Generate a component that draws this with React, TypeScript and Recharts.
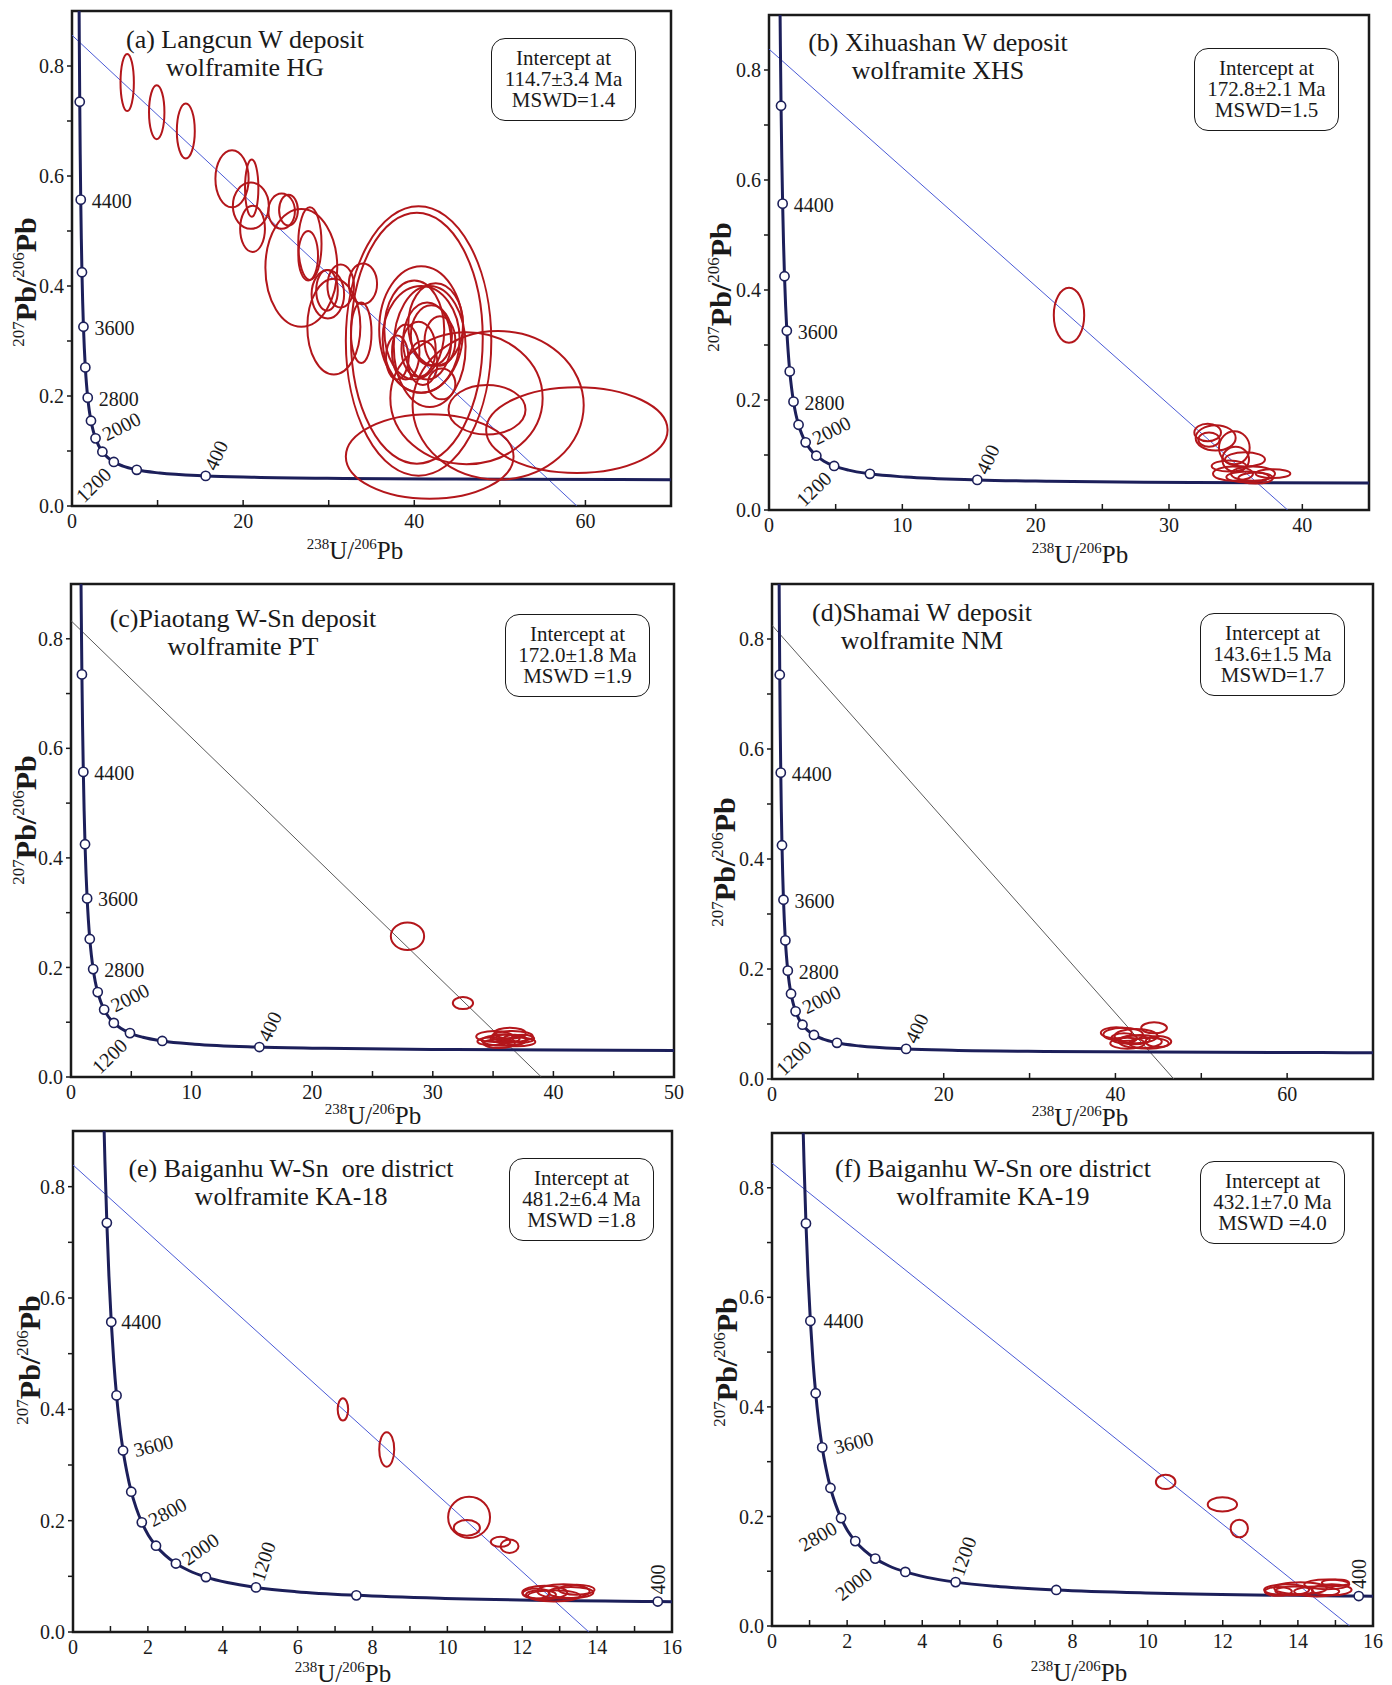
import React from "react";
import { ComposedChart, Line, Scatter, XAxis, YAxis, ReferenceArea } from "recharts";

/* Tera-Wasserburg diagrams, six wolframite samples (a)-(f) */

const FONT = '"Liberation Serif", "Times New Roman", Times, serif';
const INK = "#1a1a1a";
const RED = "#b3161b";
const NAVY = "#1c1f5a";
const BLUE = "#4a5ad6";
const GREY = "#5a5a5a";
const Y_MAX = 0.9;

// concordia curve: [238U/206Pb, 207Pb/206Pb]
const concordia: number[][] = [
  [0.829, 0.907], [0.853, 0.845], [0.904, 0.735], [0.96, 0.639], [1.022, 0.557],
  [1.089, 0.486], [1.163, 0.425], [1.245, 0.372], [1.337, 0.326], [1.44, 0.287],
  [1.556, 0.252], [1.687, 0.223], [1.838, 0.197], [2.013, 0.174], [2.217, 0.155],
  [2.459, 0.138], [2.749, 0.123], [3.104, 0.11], [3.55, 0.0987], [4.122, 0.0888],
  [4.888, 0.0801], [5.959, 0.0725], [7.568, 0.0658], [10.25, 0.0599], [15.62, 0.0547],
  [20.99, 0.0523], [31.73, 0.0501], [44.9, 0.0489], [63.97, 0.048], [70, 0.0478],
];

// age markers on the concordia (Ma)
const markerAges = [400, 800, 1200, 1600, 2000, 2400, 2800, 3200, 3600, 4000, 4400, 4800];
const markerX = [15.62, 7.568, 4.888, 3.55, 2.749, 2.217, 1.838, 1.556, 1.337, 1.163, 1.022, 0.904];
const markerY = [0.0547, 0.0658, 0.0801, 0.0987, 0.123, 0.155, 0.197, 0.252, 0.326, 0.425, 0.557, 0.735];
const labelledAges = [400, 1200, 2000, 2800, 3600, 4400];

const yTicks = [0, 0.1, 0.2, 0.3, 0.4, 0.5, 0.6, 0.7, 0.8];
const yMajor = [0, 0.2, 0.4, 0.6, 0.8];

const xTicks70 = [0, 10, 20, 30, 40, 50, 60, 70];
const xMajor70 = [0, 20, 40, 60];
const xTicks45 = [0, 5, 10, 15, 20, 25, 30, 35, 40, 45];
const xMajor45 = [0, 10, 20, 30, 40];
const xTicks50 = [0, 5, 10, 15, 20, 25, 30, 35, 40, 45, 50];
const xMajor50 = [0, 10, 20, 30, 40, 50];
const xTicks16 = [0, 1, 2, 3, 4, 5, 6, 7, 8, 9, 10, 11, 12, 13, 14, 15, 16];
const xMajor16 = [0, 2, 4, 6, 8, 10, 12, 14, 16];

// error ellipses: [x, y, half-width x, half-height y]
const ellipsesA: number[][] = [
  [6.45, 0.77, 0.78, 0.052], [9.9, 0.716, 0.9, 0.049], [13.3, 0.682, 1.05, 0.05],
  [18.7, 0.595, 1.94, 0.052], [21.0, 0.578, 0.78, 0.052], [20.9, 0.546, 2.1, 0.042],
  [21.1, 0.504, 1.45, 0.042], [24.5, 0.536, 1.55, 0.032], [25.3, 0.538, 1.1, 0.028],
  [26.8, 0.433, 4.2, 0.107], [27.8, 0.477, 1.36, 0.066], [27.6, 0.455, 1.15, 0.045],
  [29.8, 0.392, 1.26, 0.037], [29.9, 0.385, 1.9, 0.044], [30.6, 0.326, 3.1, 0.087],
  [31.4, 0.4, 1.55, 0.039], [34.0, 0.404, 1.65, 0.037], [33.8, 0.315, 1.2, 0.055],
  [40.5, 0.3, 8.5, 0.245], [40.3, 0.305, 7.7, 0.228], [40.8, 0.321, 4.9, 0.115],
  [40.8, 0.303, 4.5, 0.097], [41.5, 0.3, 2.8, 0.07], [40.5, 0.285, 2.0, 0.05],
  [42.0, 0.31, 2.4, 0.055], [43.0, 0.3, 1.8, 0.045], [39.0, 0.28, 1.6, 0.05],
  [38.0, 0.27, 1.3, 0.04], [41.0, 0.26, 1.7, 0.04], [42.5, 0.33, 3.2, 0.075],
  [40.0, 0.32, 3.5, 0.09], [41.8, 0.29, 4.2, 0.11], [43.2, 0.222, 1.6, 0.028],
  [49.8, 0.183, 10.0, 0.135], [46.1, 0.196, 8.9, 0.12], [48.5, 0.175, 4.5, 0.045],
  [59.0, 0.138, 10.6, 0.078], [41.8, 0.09, 9.8, 0.077],
];
const ellipsesB: number[][] = [
  [22.5, 0.354, 1.14, 0.05], [32.9, 0.141, 1.0, 0.016], [33.5, 0.131, 1.5, 0.023],
  [33.0, 0.128, 0.8, 0.013], [34.9, 0.113, 1.15, 0.03], [35.0, 0.092, 1.0, 0.023],
  [35.7, 0.092, 1.5, 0.013], [34.5, 0.08, 1.3, 0.01], [34.8, 0.066, 1.5, 0.013],
  [36.3, 0.066, 1.65, 0.013], [37.8, 0.066, 1.3, 0.008], [36.5, 0.058, 1.3, 0.01],
  [35.9, 0.06, 1.6, 0.01],
];
const ellipsesC: number[][] = [
  [27.9, 0.257, 1.38, 0.025], [32.5, 0.135, 0.84, 0.011], [35.1, 0.074, 1.5, 0.01],
  [36.4, 0.08, 1.3, 0.01], [35.9, 0.067, 1.85, 0.01], [37.0, 0.064, 1.5, 0.008],
  [36.6, 0.074, 1.7, 0.01], [35.5, 0.061, 1.3, 0.008], [37.5, 0.07, 0.9, 0.007],
  [34.8, 0.065, 1.1, 0.007], [36.0, 0.07, 1.2, 0.008], [36.8, 0.068, 1.0, 0.009],
];
const ellipsesD: number[][] = [
  [44.5, 0.093, 1.5, 0.01], [40.1, 0.084, 1.8, 0.01], [40.9, 0.081, 2.3, 0.012],
  [42.4, 0.078, 2.5, 0.013], [42.9, 0.068, 2.5, 0.012], [45.0, 0.068, 1.5, 0.01],
  [41.4, 0.065, 2.0, 0.01], [43.9, 0.065, 2.3, 0.01], [42.2, 0.071, 1.8, 0.008],
  [41.0, 0.074, 1.5, 0.009],
];
const ellipsesE: number[][] = [
  [7.21, 0.4, 0.14, 0.02], [8.38, 0.328, 0.2, 0.031], [10.58, 0.206, 0.56, 0.037],
  [10.52, 0.187, 0.35, 0.014], [11.42, 0.162, 0.26, 0.009], [11.66, 0.154, 0.24, 0.012],
  [12.6, 0.071, 0.6, 0.012], [13.1, 0.073, 0.7, 0.013], [13.3, 0.071, 0.6, 0.01],
  [12.37, 0.069, 0.36, 0.009], [12.85, 0.065, 0.7, 0.01], [13.45, 0.076, 0.48, 0.009],
  [12.5, 0.067, 0.4, 0.008],
];
const ellipsesF: number[][] = [
  [10.48, 0.263, 0.26, 0.013], [11.99, 0.222, 0.39, 0.013], [12.44, 0.178, 0.23, 0.016],
  [13.7, 0.066, 0.6, 0.01], [14.07, 0.069, 0.7, 0.011], [14.77, 0.076, 0.6, 0.009],
  [14.9, 0.066, 0.53, 0.01], [13.48, 0.063, 0.36, 0.008], [14.5, 0.063, 0.6, 0.009],
  [15.0, 0.079, 0.36, 0.006], [13.9, 0.064, 0.5, 0.008],
];

// discordia regression lines: y-intercept and x-intercept
const discordiaA = [[0, 0.856], [59, 0]];
const discordiaB = [[0, 0.838], [38.9, 0]];
const discordiaC = [[0, 0.833], [39.0, 0]];
const discordiaD = [[0, 0.825], [46.8, 0]];
const discordiaE = [[0, 0.839], [13.78, 0]];
const discordiaF = [[0, 0.845], [15.38, 0]];

const titlesA = ["(a) Langcun W deposit", "wolframite HG"];
const titlesB = ["(b) Xihuashan W deposit", "wolframite XHS"];
const titlesC = ["(c)Piaotang W-Sn deposit", "wolframite PT"];
const titlesD = ["(d)Shamai W deposit", "wolframite NM"];
const titlesE = ["(e) Baiganhu W-Sn  ore district", "wolframite KA-18"];
const titlesF = ["(f) Baiganhu W-Sn ore district", "wolframite KA-19"];

const boxA = ["Intercept at", "114.7\u00b13.4 Ma", "MSWD=1.4"];
const boxB = ["Intercept at", "172.8\u00b12.1 Ma", "MSWD=1.5"];
const boxC = ["Intercept at", "172.0\u00b11.8 Ma", "MSWD =1.9"];
const boxD = ["Intercept at", "143.6\u00b11.5 Ma", "MSWD=1.7"];
const boxE = ["Intercept at", "481.2\u00b16.4 Ma", "MSWD =1.8"];
const boxF = ["Intercept at", "432.1\u00b17.0 Ma", "MSWD =4.0"];

/* ── age label placement (pixels from the marker) ── */

type LabelSpec = { dx: number; dy: number; angle: number; anchor: "start" | "end" };

const labelsStd: Record<number, LabelSpec> = {
  4400: { dx: 11, dy: 1, angle: 0, anchor: "start" },
  3600: { dx: 11, dy: 1, angle: 0, anchor: "start" },
  2800: { dx: 11, dy: 1, angle: 0, anchor: "start" },
  2000: { dx: 8, dy: -3, angle: -27, anchor: "start" },
  1200: { dx: -6, dy: 9, angle: -44, anchor: "end" },
  400: { dx: 4, dy: -7, angle: -65, anchor: "start" },
};
const labelsE: Record<number, LabelSpec> = {
  4400: { dx: 10, dy: 0, angle: 0, anchor: "start" },
  3600: { dx: 11, dy: 0, angle: -14, anchor: "start" },
  2800: { dx: 8, dy: -1, angle: -28, anchor: "start" },
  2000: { dx: 8, dy: -3, angle: -35, anchor: "start" },
  1200: { dx: 1, dy: -7, angle: -72, anchor: "start" },
  400: { dx: 0, dy: -7, angle: -90, anchor: "start" },
};
const labelsF: Record<number, LabelSpec> = {
  4400: { dx: 13, dy: 0, angle: 0, anchor: "start" },
  3600: { dx: 12, dy: 0, angle: -14, anchor: "start" },
  2800: { dx: -6, dy: 8, angle: -30, anchor: "end" },
  2000: { dx: -6, dy: 13, angle: -38, anchor: "end" },
  1200: { dx: 1, dy: -7, angle: -70, anchor: "start" },
  400: { dx: 0, dy: -7, angle: -90, anchor: "start" },
};

interface PanelCfg {
  plot: { left: number; top: number; width: number; height: number };
  xMax: number;
  xTicks: number[];
  xMajor: number[];
  ellipses: number[][];
  discordia: number[][];
  lineColor: string;
  titles: string[];
  titlePos: { cx: number; cy: number };
  box: string[];
  boxPos: { left: number; top: number };
  xTitle: { cx: number; cy: number };
  yTitle: { cx: number; cy: number };
  labels: Record<number, LabelSpec>;
}

const panels: PanelCfg[] = [
  {
    plot: { left: 72, top: 11, width: 599, height: 495 }, xMax: 70, xTicks: xTicks70, xMajor: xMajor70,
    ellipses: ellipsesA, discordia: discordiaA, lineColor: BLUE, titles: titlesA,
    titlePos: { cx: 245, cy: 40 }, box: boxA, boxPos: { left: 491, top: 38 },
    xTitle: { cx: 355, cy: 550 }, yTitle: { cx: 26, cy: 282 }, labels: labelsStd,
  },
  {
    plot: { left: 769, top: 15, width: 600, height: 495 }, xMax: 45, xTicks: xTicks45, xMajor: xMajor45,
    ellipses: ellipsesB, discordia: discordiaB, lineColor: BLUE, titles: titlesB,
    titlePos: { cx: 938, cy: 43 }, box: boxB, boxPos: { left: 1194, top: 48 },
    xTitle: { cx: 1080, cy: 554 }, yTitle: { cx: 721, cy: 287 }, labels: labelsStd,
  },
  {
    plot: { left: 71, top: 584, width: 603, height: 493 }, xMax: 50, xTicks: xTicks50, xMajor: xMajor50,
    ellipses: ellipsesC, discordia: discordiaC, lineColor: GREY, titles: titlesC,
    titlePos: { cx: 243, cy: 619 }, box: boxC, boxPos: { left: 505, top: 614 },
    xTitle: { cx: 373, cy: 1115 }, yTitle: { cx: 26, cy: 820 }, labels: labelsStd,
  },
  {
    plot: { left: 772, top: 584, width: 601, height: 495 }, xMax: 70, xTicks: xTicks70, xMajor: xMajor70,
    ellipses: ellipsesD, discordia: discordiaD, lineColor: GREY, titles: titlesD,
    titlePos: { cx: 922, cy: 613 }, box: boxD, boxPos: { left: 1200, top: 613 },
    xTitle: { cx: 1080, cy: 1117 }, yTitle: { cx: 725, cy: 862 }, labels: labelsStd,
  },
  {
    plot: { left: 73, top: 1131, width: 599, height: 501 }, xMax: 16, xTicks: xTicks16, xMajor: xMajor16,
    ellipses: ellipsesE, discordia: discordiaE, lineColor: BLUE, titles: titlesE,
    titlePos: { cx: 291, cy: 1169 }, box: boxE, boxPos: { left: 509, top: 1158 },
    xTitle: { cx: 343, cy: 1673 }, yTitle: { cx: 30, cy: 1360 }, labels: labelsE,
  },
  {
    plot: { left: 772, top: 1133, width: 601, height: 493 }, xMax: 16, xTicks: xTicks16, xMajor: xMajor16,
    ellipses: ellipsesF, discordia: discordiaF, lineColor: BLUE, titles: titlesF,
    titlePos: { cx: 993, cy: 1169 }, box: boxF, boxPos: { left: 1200, top: 1161 },
    xTitle: { cx: 1079, cy: 1672 }, yTitle: { cx: 727, cy: 1362 }, labels: labelsF,
  },
];

const concordiaData = concordia.map(([x, y]) => ({ x, y }));
const markerData = markerAges.map((age, i) => ({ x: markerX[i], y: markerY[i], age }));

const ML = 62;
const MT = 10;
const MR = 12;
const MB = 40;
const Y_AXIS_W = 52;

const supStyle = (size: number, lift: number): React.CSSProperties => ({
  fontSize: size,
  fontWeight: 400,
  position: "relative",
  top: -lift,
  verticalAlign: "baseline",
});

const Panel: React.FC<{ cfg: PanelCfg }> = ({ cfg }) => {
  const { left, top, width, height } = cfg.plot;
  const pxX = width / cfg.xMax;
  const pxY = height / Y_MAX;
  const ellipseData = cfg.ellipses.map(([x, y, ax, ay]) => ({ x, y, ax, ay }));
  const lineData = cfg.discordia.map(([x, y]) => ({ x, y }));

  const renderEllipse = (p: any) => (
    <ellipse
      cx={p.cx}
      cy={p.cy}
      rx={p.payload.ax * pxX}
      ry={p.payload.ay * pxY}
      fill="none"
      stroke={RED}
      strokeWidth={2}
    />
  );

  const renderMarker = (p: any) => {
    const age = p.payload.age;
    const spec = labelledAges.includes(age) ? cfg.labels[age] : undefined;
    return (
      <g>
        <circle cx={p.cx} cy={p.cy} r={4.6} fill="#fff" stroke={NAVY} strokeWidth={1.6} />
        {spec && (
          <text
            transform={`translate(${p.cx + spec.dx},${p.cy + spec.dy}) rotate(${spec.angle})`}
            textAnchor={spec.anchor}
            dominantBaseline="central"
            fontFamily={FONT}
            fontSize={20}
            fill={INK}
          >
            {age}
          </text>
        )}
      </g>
    );
  };

  return (
    <>
      <div style={{ position: "absolute", left: left - ML, top: top - MT }}>
        <ComposedChart
          width={width + ML + MR}
          height={height + MT + MB}
          margin={{ top: MT, right: MR, left: ML - Y_AXIS_W, bottom: 0 }}
        >
          <XAxis
            type="number"
            dataKey="x"
            domain={[0, cfg.xMax]}
            ticks={cfg.xTicks}
            interval={0}
            allowDataOverflow
            height={MB}
            axisLine={false}
            tickSize={-6}
            tickMargin={14}
            tickLine={{ stroke: INK, strokeWidth: 1.5 }}
            tick={{ fill: INK, fontSize: 20, fontFamily: FONT }}
            tickFormatter={(v: number) => (cfg.xMajor.includes(v) ? String(v) : "")}
          />
          <YAxis
            type="number"
            dataKey="y"
            domain={[0, Y_MAX]}
            ticks={yTicks}
            interval={0}
            allowDataOverflow
            width={Y_AXIS_W}
            axisLine={false}
            tickSize={5}
            tickMargin={3}
            tickLine={{ stroke: INK, strokeWidth: 1.5 }}
            tick={{ fill: INK, fontSize: 20, fontFamily: FONT }}
            tickFormatter={(v: number) => (yMajor.includes(v) ? v.toFixed(1) : "")}
          />
          <Line
            data={lineData}
            dataKey="y"
            type="linear"
            stroke={cfg.lineColor}
            strokeWidth={1}
            dot={false}
            isAnimationActive={false}
          />
          <Line
            data={concordiaData}
            dataKey="y"
            type="monotone"
            stroke={NAVY}
            strokeWidth={3}
            dot={false}
            isAnimationActive={false}
          />
          <Scatter data={ellipseData} dataKey="y" shape={renderEllipse} isAnimationActive={false} />
          <Scatter data={markerData} dataKey="y" shape={renderMarker} isAnimationActive={false} />
          <ReferenceArea
            x1={0}
            x2={cfg.xMax}
            y1={0}
            y2={Y_MAX}
            fill="none"
            fillOpacity={0}
            stroke={INK}
            strokeWidth={2.5}
            ifOverflow="visible"
          />
        </ComposedChart>
      </div>

      {/* sample title */}
      <div
        style={{
          position: "absolute",
          left: cfg.titlePos.cx - 250,
          top: cfg.titlePos.cy - 14,
          width: 500,
          textAlign: "center",
          fontFamily: FONT,
          fontSize: 26,
          lineHeight: "28px",
          whiteSpace: "pre",
          color: INK,
        }}
      >
        {cfg.titles[0]}
        <br />
        {cfg.titles[1]}
      </div>

      {/* intercept box */}
      <div
        style={{
          position: "absolute",
          left: cfg.boxPos.left,
          top: cfg.boxPos.top,
          width: 145,
          height: 83,
          boxSizing: "border-box",
          border: `1.3px solid ${INK}`,
          borderRadius: 14,
          display: "flex",
          flexDirection: "column",
          justifyContent: "center",
          alignItems: "center",
          fontFamily: FONT,
          fontSize: 21,
          lineHeight: "21px",
          color: INK,
          background: "#fff",
        }}
      >
        {cfg.box.map((t) => (
          <div key={t}>{t}</div>
        ))}
      </div>

      {/* x axis title */}
      <div
        style={{
          position: "absolute",
          left: cfg.xTitle.cx,
          top: cfg.xTitle.cy,
          transform: "translate(-50%, -50%)",
          whiteSpace: "nowrap",
          fontFamily: FONT,
          fontSize: 25,
          lineHeight: 1,
          color: INK,
        }}
      >
        <span style={supStyle(15, 10)}>238</span>U/<span style={supStyle(15, 10)}>206</span>Pb
      </div>

      {/* y axis title */}
      <div
        style={{
          position: "absolute",
          left: cfg.yTitle.cx,
          top: cfg.yTitle.cy,
          transform: "translate(-50%, -50%) rotate(-90deg)",
          whiteSpace: "nowrap",
          fontFamily: FONT,
          fontSize: 30,
          fontWeight: 700,
          lineHeight: 1,
          color: INK,
        }}
      >
        <span style={supStyle(17, 12)}>207</span>Pb/<span style={supStyle(17, 12)}>206</span>Pb
      </div>
    </>
  );
};

export default function App() {
  return (
    <div
      style={{
        position: "absolute",
        left: 0,
        top: 0,
        width: 1392,
        height: 1685,
        background: "#fff",
        overflow: "hidden",
      }}
    >
      {panels.map((cfg, i) => (
        <Panel key={i} cfg={cfg} />
      ))}
    </div>
  );
}
